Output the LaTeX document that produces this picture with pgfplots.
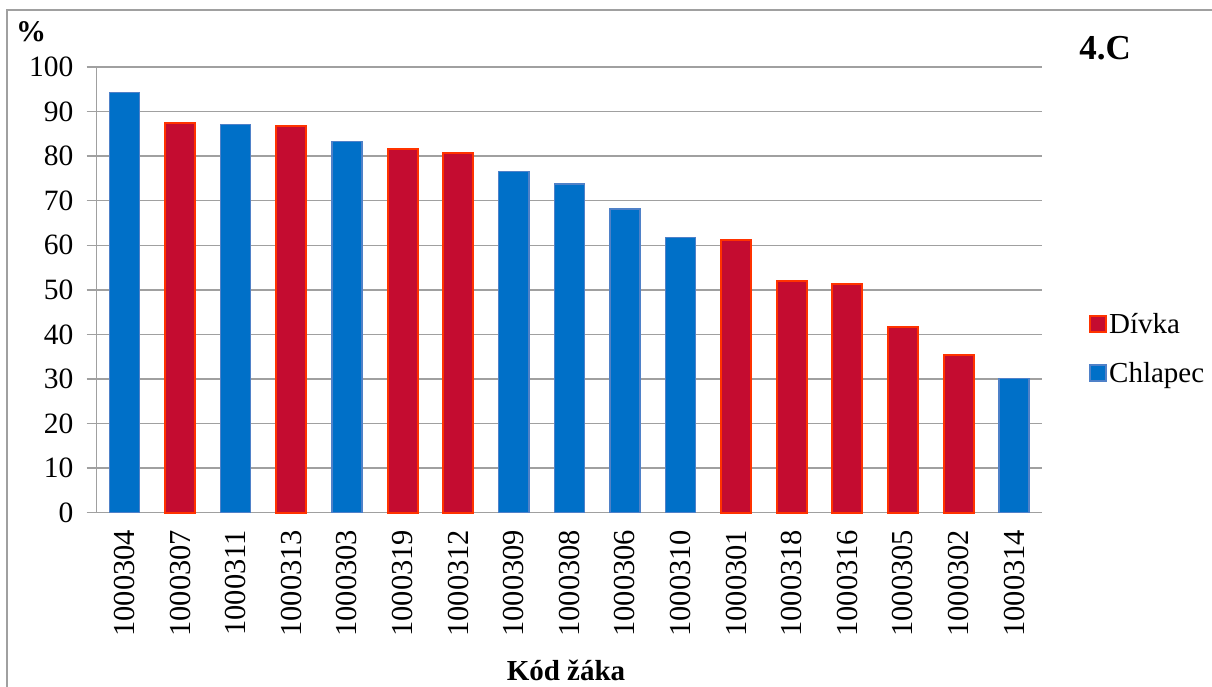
\documentclass[border=0pt]{standalone}
\usepackage{fontspec}
\setmainfont{Liberation Serif}
\usepackage{pgfplots}
\pgfplotsset{compat=1.18}
\definecolor{bblue}{RGB}{0,112,200}
\definecolor{bblueedge}{RGB}{79,129,200}
\definecolor{rred}{RGB}{196,12,48}
\definecolor{rrededge}{RGB}{255,51,0}
\definecolor{gridg}{RGB}{160,160,160}
\begin{document}
\begin{tikzpicture}[x=1pt,y=1pt]
\useasboundingbox (0,0) rectangle (1212,687);
\draw[gridg, line width=1.5pt] (7,0) -- (7,677) -- (1212,677);
\begin{axis}[
  at={(96.7pt,174.3pt)}, anchor=south west,
  scale only axis, width=945.3pt, height=445.7pt,
  xmin=-0.5, xmax=16.5, ymin=0, ymax=100,
  ytick={0,10,...,100},
  xtick={0,...,16},
  xticklabels={1000304,1000307,1000311,1000313,1000303,1000319,1000312,1000309,1000308,1000306,1000310,1000301,1000318,1000316,1000305,1000302,1000314},
  axis x line*=bottom, axis y line*=left,
  axis line style={gridg, line width=1.5pt, -},
  ymajorgrids, grid style={gridg, line width=1.5pt},
  x tick style={draw=none},
  y tick style={gridg, line width=1.5pt},
  tick align=outside, major tick length=10pt,
  /pgf/number format/assume math mode=true,
  xticklabel style={font=\fontsize{30.5}{32}\selectfont, rotate=90, anchor=east, inner sep=0pt, xshift=-7pt},
  yticklabel style={font=\fontsize{29.5}{31}\selectfont, inner sep=0pt, xshift=-13pt},
  ybar, bar width=30pt, bar shift=0pt,
  legend style={at={(1.0497,0.368)}, anchor=west, draw=none, fill=none,
    font=\fontsize{29}{31}\selectfont, row sep=23pt, inner sep=0pt,
    legend cell align=left},
  legend image code/.code={\draw[#1] (0pt,-8pt) rectangle (16pt,8pt);},
  clip=false,
]
\addplot[fill=rred, draw=rrededge, line width=2pt] coordinates {
 (1,87.5) (3,86.7) (5,81.5) (6,80.7) (11,61.2) (12,52.0) (13,51.4) (14,41.6) (15,35.3)};
\addlegendentry{Dívka}
\addplot[fill=bblue, draw=bblueedge, line width=1.5pt] coordinates {
 (0,94.3) (2,87.1) (4,83.3) (7,76.5) (8,73.8) (9,68.1) (10,61.8) (16,30.1)};
\addlegendentry{Chlapec}
\end{axis}
\node[font=\fontsize{30}{32}\selectfont\bfseries, anchor=base west, inner sep=0pt] at (16,645) {\%};
\node[font=\fontsize{35}{38}\selectfont\bfseries, anchor=base, inner sep=0pt] at (1105,627) {4.C};
\node[font=\fontsize{29}{31}\selectfont\bfseries, anchor=base, inner sep=0pt] at (566,6) {Kód žáka};
\end{tikzpicture}
\end{document}
